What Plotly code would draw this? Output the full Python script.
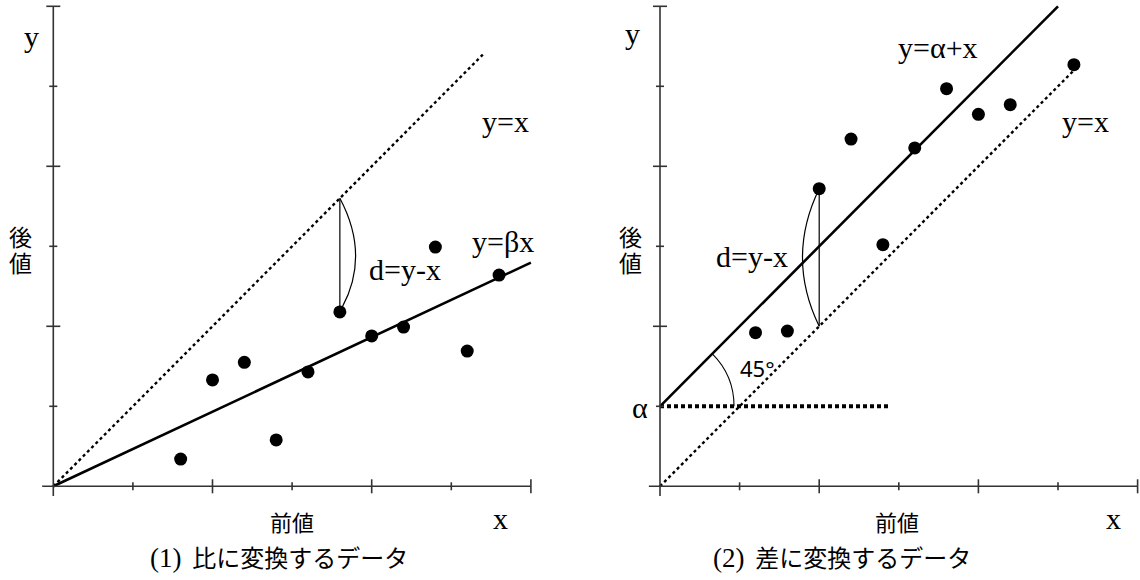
import plotly.graph_objects as go

# ---- data -------------------------------------------------------------
# (1) points whose change is modelled as a ratio  y = beta * x
ratio_x = [1.6, 2.0, 2.4, 2.8, 3.2, 3.6, 4.0, 4.4, 4.8, 5.2, 5.6]
ratio_y = [0.34, 1.33, 1.55, 0.58, 1.43, 2.18, 1.88, 1.99, 2.99, 1.69, 2.64]
beta = 0.466

# (2) points whose change is modelled as a difference  y = alpha + x
diff_x = [1.2, 1.6, 2.0, 2.4, 2.8, 3.2, 3.6, 4.0, 4.4, 5.2]
diff_y = [1.92, 1.94, 3.72, 4.34, 3.02, 4.23, 4.97, 4.65, 4.77, 5.27]
alpha = 1.0

tick_values = [1, 2, 3, 4, 5, 6]
major_ticks = [2, 4, 6]

# ---- geometry ---------------------------------------------------------
W, H = 1140, 580
UNIT_X, UNIT_Y = 79.6, 80.0          # pixels per axis unit
ORIGIN_Y_PX = 486.3
LEFT_ORIGIN_X_PX, RIGHT_ORIGIN_X_PX = 53.3, 660.0

SERIF = "Liberation Serif"
JP = "Noto Sans CJK JP"
SANS = "Noto Sans"
INK = "#000000"
AXIS_INK = "#333333"
LATIN_SIZE = 30

fig = go.Figure()

# ---- traces: panel (1) -------------------------------------------------
fig.add_trace(go.Scatter(x=[0, 5.4], y=[0, 5.4], mode="lines",
                         line=dict(color=INK, width=2.4, dash="3px,3px"),
                         xaxis="x", yaxis="y", hoverinfo="skip"))
fig.add_trace(go.Scatter(x=[0, 6], y=[0, beta * 6], mode="lines",
                         line=dict(color=INK, width=2.6),
                         xaxis="x", yaxis="y", hoverinfo="skip"))
# d = y - x bracket at the sixth point
bx, by = ratio_x[5], ratio_y[5]
fig.add_trace(go.Scatter(x=[bx, bx], y=[bx, by], mode="lines",
                         line=dict(color=INK, width=1.2),
                         xaxis="x", yaxis="y", hoverinfo="skip"))
fig.add_trace(go.Scatter(x=ratio_x, y=ratio_y, mode="markers",
                         marker=dict(color=INK, size=13),
                         xaxis="x", yaxis="y", hoverinfo="skip"))

# ---- traces: panel (2) -------------------------------------------------
fig.add_trace(go.Scatter(x=[0, 5.25], y=[0, 5.25], mode="lines",
                         line=dict(color=INK, width=2.4, dash="3px,3px"),
                         xaxis="x2", yaxis="y2", hoverinfo="skip"))
fig.add_trace(go.Scatter(x=[0, 5.0], y=[alpha, alpha + 5.0], mode="lines",
                         line=dict(color=INK, width=2.6),
                         xaxis="x2", yaxis="y2", hoverinfo="skip"))
fig.add_trace(go.Scatter(x=[0, 2.9], y=[alpha, alpha], mode="lines",
                         line=dict(color=INK, width=4, dash="4px,3px"),
                         xaxis="x2", yaxis="y2", hoverinfo="skip"))
dx, dy = diff_x[2], diff_y[2]
fig.add_trace(go.Scatter(x=[dx, dx], y=[dy, dx], mode="lines",
                         line=dict(color=INK, width=1.2),
                         xaxis="x2", yaxis="y2", hoverinfo="skip"))
fig.add_trace(go.Scatter(x=diff_x, y=diff_y, mode="markers",
                         marker=dict(color=INK, size=13),
                         xaxis="x2", yaxis="y2", hoverinfo="skip"))

# ---- shapes: axes, ticks, arcs -----------------------------------------
shapes = []
for xr, yr in (("x", "y"), ("x2", "y2")):
    shapes.append(dict(type="line", xref=xr, yref=yr, x0=0, x1=0, y0=-0.12, y1=6,
                       line=dict(color=AXIS_INK, width=1.6)))
    shapes.append(dict(type="line", xref=xr, yref=yr, x0=-0.14, x1=6, y0=0, y1=0,
                       line=dict(color=AXIS_INK, width=1.6)))
    for t in tick_values:
        half = 7 if t in major_ticks else 4
        shapes.append(dict(type="line", xref=xr, yref=yr, x0=t, x1=t,
                           ysizemode="pixel", yanchor=0, y0=-half, y1=half,
                           line=dict(color=AXIS_INK, width=1.6)))
        shapes.append(dict(type="line", xref=xr, yref=yr, y0=t, y1=t,
                           xsizemode="pixel", xanchor=0, x0=-half, x1=half,
                           line=dict(color=AXIS_INK, width=1.6)))

# curved brace beside each d = y - x segment
shapes.append(dict(type="path", xref="x", yref="y",
                   path=f"M {bx},{bx} Q {bx + 0.38},{(bx + by) / 2} {bx + 0.03},{by + 0.06}",
                   line=dict(color=INK, width=1.2)))
shapes.append(dict(type="path", xref="x2", yref="y2",
                   path=f"M {dx},{dy} Q {dx - 0.42},{(dx + dy) / 2} {dx},{dx}",
                   line=dict(color=INK, width=1.2)))

# 45 degree arc around (0, alpha)
rx, ry, c, k = 0.93, 0.925, 0.70711, 0.26522
p0 = (rx, alpha)
p1 = (rx, alpha + k * ry)
p2 = (rx * (c + k * c), alpha + ry * (c - k * c))
p3 = (rx * c, alpha + ry * c)
shapes.append(dict(type="path", xref="x2", yref="y2",
                   path=f"M {p0[0]},{p0[1]} C {p1[0]},{p1[1]} {p2[0]},{p2[1]} {p3[0]},{p3[1]}",
                   line=dict(color=INK, width=1.1)))

# ---- text ---------------------------------------------------------------
def label(text, px, py, family, size):
    return dict(text=text, x=px / W, y=1 - py / H, xref="paper", yref="paper",
                xanchor="center", yanchor="middle", showarrow=False,
                font=dict(family=family, size=size, color=INK))

def title(num, words, px, py):
    txt = (f"<span style='font-family:{SERIF};font-size:27px'>({num})</span>  {words}")
    return label(txt, px, py, JP, 24)

annotations = [
    # panel (1)
    label("y", 31, 36, SERIF, LATIN_SIZE),
    label("後", 21, 236, JP, 23),
    label("値", 21, 262, JP, 23),
    label("前値", 292, 521, JP, 22),
    label("x", 500, 518, SERIF, LATIN_SIZE),
    label("y=x", 505, 122, SERIF, LATIN_SIZE),
    label("y=βx", 503, 241, SERIF, LATIN_SIZE),
    label("d=y-x", 405, 270, SERIF, LATIN_SIZE),
    title(1, "比に変換するデータ", 279, 556),
    # panel (2)
    label("y", 633, 33, SERIF, LATIN_SIZE),
    label("後", 630, 236, JP, 23),
    label("値", 630, 262, JP, 23),
    label("α", 640, 407, SERIF, LATIN_SIZE),
    label("45°", 757, 368, SANS, 22),
    label("d=y-x", 752, 256, SERIF, LATIN_SIZE),
    label("y=α+x", 938, 47, SERIF, LATIN_SIZE),
    label("y=x", 1085, 121, SERIF, LATIN_SIZE),
    label("前値", 897, 521, JP, 22),
    label("x", 1113, 518, SERIF, LATIN_SIZE),
    title(2, "差に変換するデータ", 842, 556),
]

# ---- layout -------------------------------------------------------------
y_range = [(ORIGIN_Y_PX - H) / UNIT_Y, ORIGIN_Y_PX / UNIT_Y]
half_w = W / 2
axis_common = dict(visible=False, showgrid=False, zeroline=False, fixedrange=True)

fig.update_layout(
    width=W, height=H,
    margin=dict(l=0, r=0, t=0, b=0),
    paper_bgcolor="white", plot_bgcolor="white",
    showlegend=False,
    xaxis=dict(domain=[0, 0.5], anchor="y",
               range=[-LEFT_ORIGIN_X_PX / UNIT_X, (half_w - LEFT_ORIGIN_X_PX) / UNIT_X],
               **axis_common),
    yaxis=dict(domain=[0, 1], anchor="x", range=y_range, **axis_common),
    xaxis2=dict(domain=[0.5, 1], anchor="y2",
                range=[(half_w - RIGHT_ORIGIN_X_PX) / UNIT_X, (W - RIGHT_ORIGIN_X_PX) / UNIT_X],
                **axis_common),
    yaxis2=dict(domain=[0, 1], anchor="x2", range=y_range, **axis_common),
    shapes=shapes,
    annotations=annotations,
)

fig.write_html("out.html", config=dict(displayModeBar=False))
